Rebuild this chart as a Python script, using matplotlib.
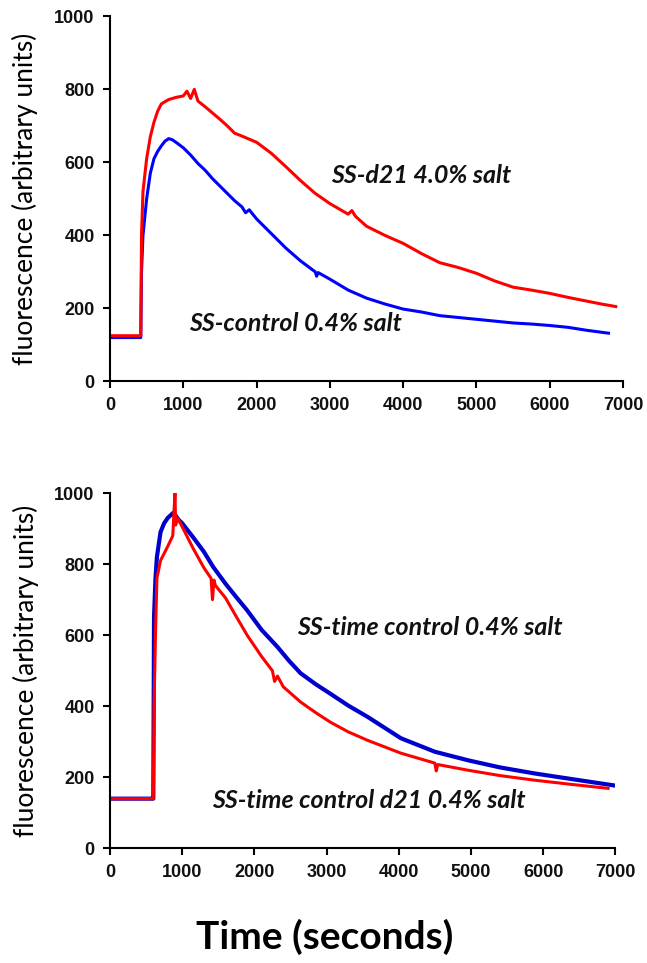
import matplotlib
matplotlib.use('Agg')
import matplotlib.pyplot as plt

# top panel: SS-control 0.4% salt (blue) vs SS-d21 4.0% salt (red)
t_top_blue = [0, 200, 420, 430, 450, 500, 550, 600, 650, 700, 750, 800, 850, 900, 1000, 1100, 1200, 1300, 1400,
              1500, 1600, 1700, 1800, 1850, 1900, 2000, 2200, 2400, 2600, 2800, 2820, 2840, 3000, 3250, 3500,
              3750, 4000, 4250, 4500, 4750, 5000, 5250, 5500, 5750, 6000, 6250, 6500, 6800]
v_top_blue = [120, 120, 120, 300, 400, 500, 570, 610, 630, 645, 658, 665, 662, 655, 640, 620, 597, 578, 555,
              535, 515, 495, 478, 462, 470, 445, 405, 365, 330, 300, 288, 298, 280, 250, 228,
              212, 198, 190, 180, 175, 170, 165, 160, 157, 153, 148, 140, 132]

t_top_red = [0, 200, 420, 430, 450, 500, 550, 600, 650, 700, 800, 900, 1000, 1050, 1100, 1150, 1200, 1300,
             1400, 1500, 1600, 1700, 1800, 2000, 2200, 2400, 2600, 2800, 3000, 3250, 3300, 3350, 3500, 3750,
             4000, 4250, 4500, 4750, 5000, 5250, 5500, 5750, 6000, 6250, 6500, 6700, 6900]
v_top_red = [125, 125, 125, 400, 520, 610, 670, 710, 740, 760, 772, 778, 782, 795, 775, 800, 768, 752,
             735, 718, 700, 680, 672, 655, 625, 588, 550, 515, 487, 458, 468, 452, 425, 400,
             378, 350, 325, 312, 296, 275, 258, 250, 241, 230, 220, 212, 205]

# bottom panel: SS-time control 0.4% salt (blue) vs SS-time control d21 0.4% salt (red)
t_bot_blue = [0, 300, 590, 600, 610, 630, 650, 700, 750, 800, 880, 950, 1000, 1150, 1300, 1430, 1600, 1750,
              1900, 2100, 2320, 2480, 2640, 2850, 3055, 3300, 3570, 3800, 4030, 4500, 4960, 5400, 5880,
              6400, 6990]
v_bot_blue = [140, 140, 140, 140, 650, 760, 820, 890, 915, 930, 945, 925, 915, 876, 835, 792, 745, 707,
              670, 615, 567, 528, 493, 462, 435, 402, 370, 340, 310, 272, 248, 228, 211,
              195, 177]

t_bot_red = [0, 300, 590, 600, 610, 630, 650, 700, 750, 800, 870, 890, 900, 910, 930, 950, 1000, 1150,
             1300, 1400, 1420, 1440, 1460, 1600, 1750, 1900, 2100, 2250, 2280, 2320, 2400, 2640, 2850,
             3055, 3300, 3570, 4030, 4500, 4520, 4540, 4960, 5400, 5880, 6400, 6900]
v_bot_red = [140, 140, 140, 140, 400, 600, 760, 810, 830, 850, 880, 960, 1000, 910, 930, 925, 905, 845,
             790, 760, 700, 755, 740, 705, 652, 600, 540, 500, 470, 485, 455, 412, 382,
             355, 328, 304, 268, 240, 218, 236, 220, 205, 192, 180, 169]

xticks = [0, 1000, 2000, 3000, 4000, 5000, 6000, 7000]
yticks = [0, 200, 400, 600, 800, 1000]

fig = plt.figure(figsize=(6.47, 9.63), dpi=100)
ax1 = fig.add_axes([0.170, 0.604, 0.793, 0.379])
ax2 = fig.add_axes([0.170, 0.119, 0.781, 0.369])

ax1.plot(t_top_blue, v_top_blue, color='#0000ff', lw=2.2)
ax1.plot(t_top_red, v_top_red, color='#ff0000', lw=2.2)
ax2.plot(t_bot_blue, v_bot_blue, color='#0000cc', lw=3)
ax2.plot(t_bot_red, v_bot_red, color='#ff0000', lw=2.2)

for ax in (ax1, ax2):
    ax.set_xlim(0, 7000)
    ax.set_ylim(0, 1000)
    ax.set_xticks(xticks)
    ax.set_yticks(yticks)
    ax.spines['top'].set_visible(False)
    ax.spines['right'].set_visible(False)
    ax.spines['left'].set_linewidth(1.5)
    ax.spines['bottom'].set_linewidth(1.5)
    ax.tick_params(direction='out', length=5, width=1.5, labelsize=13, pad=6)
    for lab in ax.get_xticklabels() + ax.get_yticklabels():
        lab.set_fontweight('bold')
        lab.set_family('Liberation Sans')
        lab.set_color('#111111')
    ax.set_ylabel('fluorescence (arbitrary units)', family='Lato', fontsize=19)
    ax.yaxis.set_label_coords(-0.14, 0.5)

tfont = dict(family='Lato', fontsize=18, fontweight='bold', style='italic', color='#111111', va='center')
ax1.text(3014, 564, 'SS-d21 4.0% salt', **tfont)
ax1.text(1082, 159, 'SS-control 0.4% salt', **tfont)
ax2.text(2597, 622, 'SS-time control 0.4% salt', **tfont)
ax2.text(1417, 135, 'SS-time control d21 0.4% salt', **tfont)

fig.text(325 / 647, 1 - 937 / 963, 'Time (seconds)', family='Lato', fontsize=28,
         fontweight='bold', ha='center', va='center')

fig.savefig('out.png', dpi=100)
